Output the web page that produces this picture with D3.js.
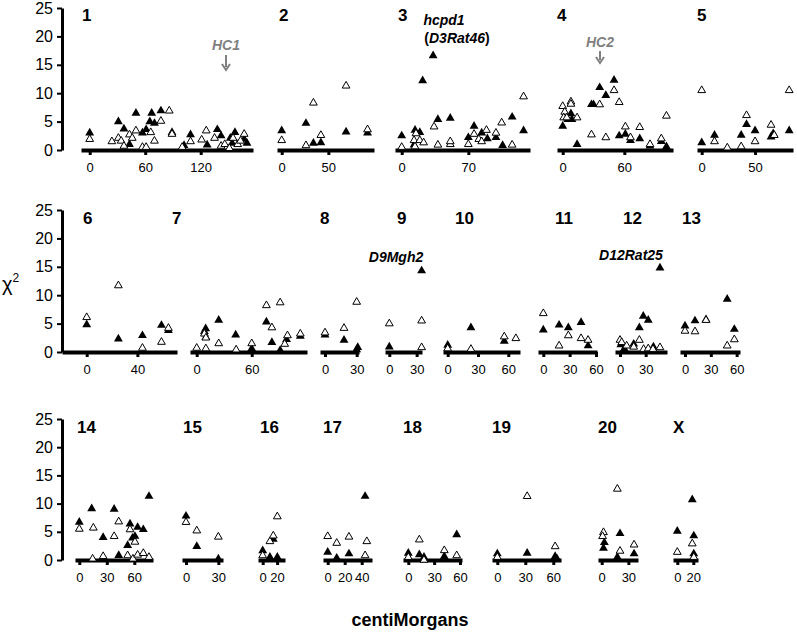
<!DOCTYPE html>
<html>
<head>
<meta charset="utf-8">
<script src="https://cdn.jsdelivr.net/npm/d3@7"></script>
<style>
body { margin: 0; background: #fff; }
text { font-family: Arial, "Liberation Sans", sans-serif; }
</style>
</head>
<body>
<div id="chart"></div>
<script>
"use strict";

// chromosomes and their cM tick labels
var chromosomes = ["1", "2", "3", "4", "5", "6", "7", "8", "9", "10", "11", "12", "13",
                   "14", "15", "16", "17", "18", "19", "20", "X"];
var cmTicks = [[0, 60, 120], [0, 50], [0, 70], [0, 60], [0, 50],
               [0, 40], [0, 60], [0, 30], [0, 30], [0, 30, 60], [0, 30, 60], [0, 30], [0, 30, 60],
               [0, 30, 60], [0, 30], [0, 20], [0, 20, 40], [0, 30, 60], [0, 30, 60], [0, 30], [0, 20]];
var chiTicks = [0, 5, 10, 15, 20, 25];

// markers: [cM, chi2]; filled = solid triangles, open = open triangles
var filled1 = [[0, 3.0], [31, 5.0], [37, 3.7], [43, 1.0], [50, 6.5], [57, 3.0], [61, 3.6], [65, 5.0], [67, 6.5],
               [70, 4.7], [77, 6.9], [89, 3.1], [102, 0.8], [109, 2.7], [127, 0.9], [138, 3.6], [142, 2.5],
               [152, 2.1], [157, 3.1], [154, 1.2], [167, 1.9], [170, 1.2]];
var open1 = [[0, 1.9], [24, 1.5], [31, 2.1], [34, 1.6], [37, 0.7], [43, 2.7], [46, 2.1], [50, 3.4], [57, 0.5],
             [61, 0.5], [66, 3.1], [70, 1.6], [77, 5.1], [86, 6.9], [89, 2.8], [100, 0.5], [109, 1.5],
             [121, 1.8], [126, 3.4], [135, 2.1], [142, 0.7], [146, 1.0], [151, 0.3], [155, 2.1], [160, 1.0],
             [163, 1.6], [167, 2.8]];
var filled2 = [[0, 3.4], [26, 4.7], [34, 1.2], [42, 1.3], [69, 3.2], [92, 3.0]];
var open2 = [[0, 1.7], [26, 0.8], [34, 8.3], [42, 2.6], [69, 11.3], [92, 3.6]];
var filled3 = [[0, 2.5], [14, 3.5], [19, 3.1], [13, 0.9], [22, 12.2], [33, 16.6], [38, 5.4], [51, 5.6],
               [76, 4.2], [70, 2.2], [84, 3.0], [90, 2.0], [99, 2.2], [106, 0.8], [116, 5.8], [128, 3.4]];
var open3 = [[0, 0.5], [15, 2.9], [13, 1.7], [19, 1.7], [23, 1.3], [14, 0.6], [34, 4.1], [38, 0.9], [51, 1.0],
             [51, 1.5], [70, 1.0], [76, 2.8], [81, 1.9], [84, 1.5], [89, 3.5], [99, 3.0], [105, 4.8],
             [116, 0.9], [128, 9.4]];
var filled4 = [[0, 4.2], [8, 6.4], [5, 5.4], [9, 5.4], [14, 1.0], [28, 8.0], [30, 8.0], [36, 11.0], [42, 9.6],
               [50, 12.3], [55, 2.5], [61, 2.8], [66, 1.7], [75, 2.0], [85, 0.7], [96, 1.5], [101, 0.6]];
var open4 = [[0, 7.7], [8, 8.5], [8, 8.1], [2, 6.7], [1, 5.7], [4, 5.7], [14, 5.7], [28, 2.7], [36, 8.0],
             [42, 2.2], [50, 10.5], [55, 8.4], [61, 4.1], [66, 2.2], [75, 4.0], [85, 1.0], [96, 2.0], [101, 6.0]];
var filled5 = [[0, 1.3], [12, 2.6], [37, 2.6], [42, 4.5], [50, 3.4], [65, 2.3], [67, 2.9], [82, 3.4]];
var open5 = [[0, 10.5], [12, 1.5], [24, 0.4], [37, 0.6], [42, 6.1], [50, 1.5], [65, 4.4], [68, 2.6], [82, 10.5]];
var filled6 = [[0, 4.8], [25, 2.3], [44, 2.9], [59, 4.7], [64.5, 3.8]];
var open6 = [[0, 6.1], [25, 11.7], [44, 0.7], [59, 1.75], [64.5, 4.2]];
var filled7 = [[9.8, 4.1], [8.4, 3.6], [10, 2.6], [24, 5.6], [42.5, 3.0], [60, 0.6], [76, 5.3], [82, 1.7],
               [91, 0.3], [98, 2.2], [113, 2.8]];
var open7 = [[0, 0.7], [10, 0.6], [8.4, 3.2], [10, 2.5], [24, 1.5], [43, 0.4], [60, 1.5], [76, 8.2], [91, 8.7],
             [82, 4.3], [96, 1.4], [99, 2.9], [113, 3.2]];
var filled8 = [[0, 3.0], [18, 2.1], [30, 0.4], [31, 0.8]];
var open8 = [[0, 3.4], [18, 4.2], [30, 8.8]];
var filled9 = [[0, 0.9], [35.5, 14.3]];
var open9 = [[0, 5.0], [35.5, 5.5], [35.5, 0.8]];
var filled10 = [[0, 1.2], [23, 4.3], [56, 1.9]];
var open10 = [[0, 0.6], [23, 0.5], [56, 2.7], [67.5, 2.4]];
var filled11 = [[0, 3.9], [18, 4.75], [28.5, 4.3], [43, 5.2], [51, 1.1]];
var open11 = [[0, 6.8], [18, 1.1], [28.5, 2.9], [43, 2.4], [51, 2.1]];
var filled12 = [[1, 1.3], [5, 0.6], [16, 1.4], [22.6, 4.3], [27.2, 6.3], [33, 5.6], [39, 0.9], [46.7, 14.8]];
var open12 = [[0, 2.1], [2, 1.7], [7.8, 1.1], [16, 0.9], [22.6, 2.1], [27.6, 0.5], [33, 0.6], [38.5, 0.5],
              [46.7, 0.8]];
var filled13 = [[0, 4.6], [11.6, 5.5], [24.4, 5.7], [49, 9.3], [57.3, 4.0]];
var open13 = [[0, 3.7], [11.6, 3.6], [24.4, 5.6], [49, 1.1], [57.3, 2.2]];
var filled14 = [[0, 6.7], [13.5, 9.1], [26, 4.0], [38, 9.0], [43, 0.8], [52.7, 2.6], [55.3, 6.4], [58, 3.9],
                [60.7, 4.2], [63.6, 5.8], [69.8, 5.4], [76, 11.3]];
var open14 = [[0, 5.5], [14.5, 0.2], [15.3, 5.7], [26, 0.65], [38, 4.2], [43, 6.8], [52.7, 0.8], [55.3, 5.4],
              [60.7, 3.2], [58.5, 0.2], [63.6, 0.9], [69.8, 1.2], [76, 0.5]];
var filled15 = [[0, 7.8], [10, 2.4], [30, 0.2]];
var open15 = [[0, 6.7], [10, 5.2], [30, 4.1]];
var filled16 = [[0, 1.65], [10, 0.5], [14.7, 3.7], [20.3, 0.5]];
var open16 = [[0, 0.8], [10, 3.3], [14.7, 4.3], [20.3, 7.7]];
var filled17 = [[0, 1.4], [10.6, 0.35], [25, 1.1], [44, 11.3]];
var open17 = [[0, 4.2], [10.6, 3.0], [25, 4.1], [46, 3.3], [44, 0.8]];
var filled18 = [[0, 1.2], [12.8, 0.95], [18.2, 0.5], [41.8, 0.65], [56.2, 4.5]];
var open18 = [[0, 0.5], [12.8, 3.6], [18.2, 0], [41.8, 1.7], [56.2, 0.8]];
var filled19 = [[0, 1.1], [32, 1.2], [62, 0.65], [64, 0.2]];
var open19 = [[0, 0.5], [32, 11.3], [62, 2.4]];
var filled20 = [[3, 3.1], [2, 2.1], [20.6, 4.7], [17.6, 0.5], [36.4, 1.1]];
var open20 = [[2, 4.9], [1, 4.2], [17.6, 12.6], [20.6, 1.6], [36.4, 2.7]];
var filledX = [[0, 5.1], [18.7, 10.7], [20.6, 4.3], [20.6, 1.1]];
var openX = [[0, 1.4], [18.7, 2.9], [20.6, 0.5]];

var filledByChr = [filled1, filled2, filled3, filled4, filled5, filled6, filled7, filled8, filled9, filled10,
                   filled11, filled12, filled13, filled14, filled15, filled16, filled17, filled18, filled19,
                   filled20, filledX];
var openByChr = [open1, open2, open3, open4, open5, open6, open7, open8, open9, open10, open11, open12, open13,
                 open14, open15, open16, open17, open18, open19, open20, openX];

// ---- layout (pixels) ----
var rows = [
    { y0: 150, y25: 8, labelY: 21 },
    { y0: 352, y25: 210, labelY: 224 },
    { y0: 560, y25: 419, labelY: 433 }
];
// row, baseline left/right, pixel of 0 cM, px per cM, chromosome label x
var panels = [
    [0, 81, 253, 89.7, 0.925, 82], [0, 277, 374, 281.7, 0.933, 279], [0, 395, 530, 401.7, 0.952, 398],
    [0, 557, 673, 562.7, 1.027, 557], [0, 697, 793, 701.7, 1.067, 697],
    [1, 62, 177, 86.7, 1.267, 83], [1, 190, 307, 196.7, 0.917, 172], [1, 320, 359, 325, 1.056, 320],
    [1, 385, 422, 389.3, 0.911, 397], [1, 443, 520, 447.7, 1.01, 455], [1, 538, 597, 543.3, 0.878, 555],
    [1, 615, 667, 620, 0.856, 623], [1, 680, 740, 685, 0.861, 682],
    [2, 75, 153, 79.3, 0.917, 77], [2, 182, 223, 186, 1.078, 183], [2, 258, 285, 262.7, 0.72, 260],
    [2, 323, 372, 327.7, 0.85, 323], [2, 403, 462, 408.3, 0.861, 403], [2, 492, 561, 497.3, 0.933, 492],
    [2, 598, 638, 601.7, 0.889, 598], [2, 673, 698, 677.3, 0.8, 673]
];

var svg = d3.select("#chart")
    .append("svg")
    .attr("width", 797)
    .attr("height", 632);

var font = "Arial, 'Liberation Sans', sans-serif";

// y scales and axes, one per row
var yScales = rows.map(function(r) {
    var y = d3.scaleLinear().domain([0, 25]).range([r.y0, r.y25]);
    var g = svg.append("g")
        .attr("transform", "translate(62,0)")
        .call(d3.axisLeft(y).tickValues(chiTicks).tickSize(5).tickSizeOuter(0).tickPadding(4));
    g.select(".domain").attr("stroke-width", 3);
    g.selectAll(".tick line").attr("stroke-width", 2);
    g.selectAll("text").attr("font-family", font).attr("font-size", 16).attr("fill", "#000");
    return y;
});

var triFilled = d3.symbol().type(d3.symbolTriangle).size(34);
var triOpen = d3.symbol().type(d3.symbolTriangle).size(26);

chromosomes.forEach(function(chr, i) {
    var p = panels[i];
    var row = rows[p[0]];
    var y = yScales[p[0]];
    var x = d3.scaleLinear()
        .domain([(p[1] - p[3]) / p[4], (p[2] - p[3]) / p[4]])
        .range([p[1], p[2]]);

    var ax = svg.append("g")
        .attr("transform", "translate(0," + row.y0 + ")")
        .call(d3.axisBottom(x).tickValues(cmTicks[i]).tickSize(5).tickSizeOuter(0).tickPadding(8));
    ax.select(".domain").attr("stroke-width", 4);
    ax.selectAll(".tick line").attr("stroke-width", 3);
    ax.selectAll("text").attr("font-family", font).attr("font-size", 13).attr("fill", "#000");

    svg.append("g")
        .selectAll("path")
        .data(filledByChr[i])
        .enter()
        .append("path")
        .attr("d", triFilled)
        .attr("transform", function(d) { return "translate(" + x(d[0]) + "," + y(d[1]) + ")"; })
        .attr("fill", "#000");

    svg.append("g")
        .selectAll("path")
        .data(openByChr[i])
        .enter()
        .append("path")
        .attr("d", triOpen)
        .attr("transform", function(d) { return "translate(" + x(d[0]) + "," + y(d[1]) + ")"; })
        .attr("fill", "#fff")
        .attr("stroke", "#000")
        .attr("stroke-width", 1);

    svg.append("text")
        .attr("x", p[5])
        .attr("y", row.labelY)
        .attr("font-size", 17)
        .attr("font-weight", "bold")
        .text(chr);
});

// marker annotations
function italicLabel(x, y, txt, color) {
    svg.append("text")
        .attr("x", x).attr("y", y)
        .attr("text-anchor", "middle")
        .attr("font-size", 14)
        .attr("font-weight", "bold")
        .attr("font-style", "italic")
        .attr("fill", color)
        .text(txt);
}
italicLabel(444, 25, "hcpd1", "#000");
var d3rat = svg.append("text")
    .attr("x", 457).attr("y", 43)
    .attr("text-anchor", "middle")
    .attr("font-size", 14)
    .attr("font-weight", "bold");
d3rat.append("tspan").text("(");
d3rat.append("tspan").attr("font-style", "italic").text("D3Rat46");
d3rat.append("tspan").text(")");
italicLabel(396, 262, "D9Mgh2", "#000");
italicLabel(631, 260, "D12Rat25", "#000");
italicLabel(226, 50, "HC1", "#808080");
italicLabel(600, 47, "HC2", "#808080");

// arrows under HC labels
function arrow(x, y1, y2) {
    svg.append("line")
        .attr("x1", x).attr("x2", x).attr("y1", y1).attr("y2", y2 - 3)
        .attr("stroke", "#808080").attr("stroke-width", 2);
    svg.append("path")
        .attr("d", "M" + (x - 4) + "," + (y2 - 6) + "L" + x + "," + y2 + "L" + (x + 4) + "," + (y2 - 6))
        .attr("fill", "none").attr("stroke", "#808080").attr("stroke-width", 2);
}
arrow(226, 55, 70);
arrow(600, 51, 63);

// axis titles
var chiLabel = svg.append("text")
    .attr("x", 2).attr("y", 291)
    .attr("font-size", 20);
chiLabel.append("tspan").text("\u03c7");
chiLabel.append("tspan").attr("font-size", 12).attr("dy", -9).text("2");

svg.append("text")
    .attr("x", 410).attr("y", 626)
    .attr("text-anchor", "middle")
    .attr("font-size", 18)
    .attr("font-weight", "bold")
    .text("centiMorgans");
</script>
</body>
</html>
